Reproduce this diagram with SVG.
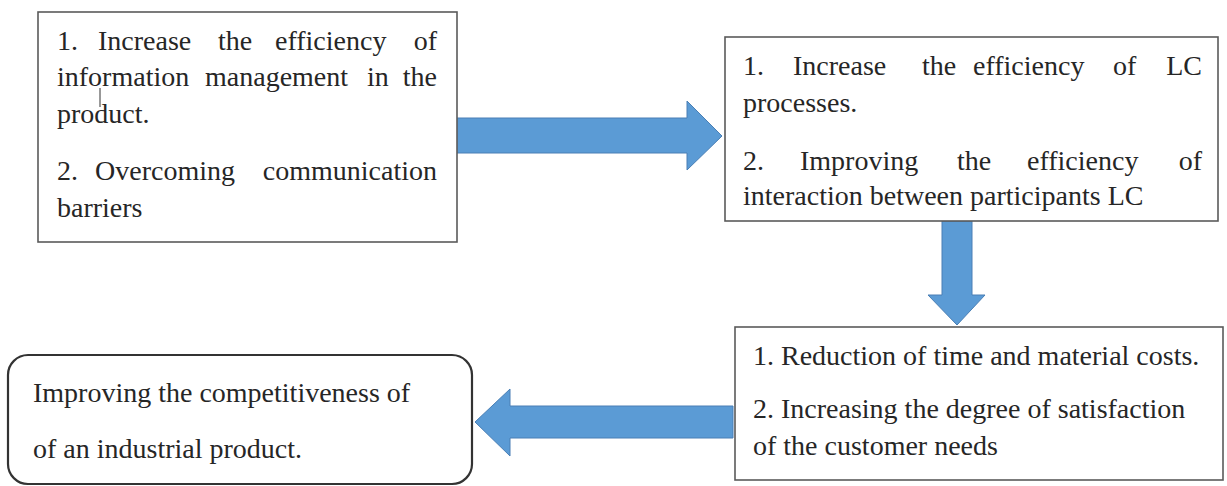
<svg xmlns="http://www.w3.org/2000/svg" width="1227" height="486" viewBox="0 0 1227 486">
<style>
.box{fill:#fff;stroke:#5a5a5a;stroke-width:1.6}
.rbox{fill:#fff;stroke:#333;stroke-width:2.2}
text{font-size:28px;fill:#262626}
.arrow{fill:#5b9bd5;stroke:#4a7fb5;stroke-width:1}
</style>
<rect width="1227" height="486" fill="#fff"/>
<g id="connectors">
<polygon class="arrow" points="456,118 687,118 687,101 722,136 687,170 687,153 456,153"/>
<polygon class="arrow" points="942,221 972,221 972,295 985,295 957,325 928,295 942,295"/>
<polygon class="arrow" points="733,406 510,406 510,389 475,422 510,456 510,438 733,438"/>
</g>
<g id="node1" font-family="Liberation Serif, DejaVu Serif, serif">
<rect class="box" x="38" y="12" width="419" height="230"/>
<text y="50"><tspan x="57">1.</tspan><tspan x="98">Increase</tspan><tspan x="218">the</tspan><tspan x="275">efficiency</tspan><tspan x="437" text-anchor="end">of</tspan></text>
<text y="86"><tspan x="57">information</tspan><tspan x="205">management</tspan><tspan x="367">in</tspan><tspan x="437" text-anchor="end">the</tspan></text>
<text x="57" y="123">product.</text>
<text y="180"><tspan x="57">2.</tspan><tspan x="95">Overcoming</tspan><tspan x="437" text-anchor="end">communication</tspan></text>
<text x="57" y="217">barriers</text>
<line x1="100" y1="88" x2="100" y2="107" stroke="#333" stroke-width="1"/>
</g>
<g id="node2" font-family="Liberation Serif, DejaVu Serif, serif">
<rect class="box" x="725" y="37" width="493" height="184"/>
<text y="75"><tspan x="743">1.</tspan><tspan x="793">Increase</tspan><tspan x="922">the</tspan><tspan x="973">efficiency</tspan><tspan x="1113">of</tspan><tspan x="1202" text-anchor="end">LC</tspan></text>
<text x="743" y="112">processes.</text>
<text y="170"><tspan x="743">2.</tspan><tspan x="800">Improving</tspan><tspan x="957">the</tspan><tspan x="1027">efficiency</tspan><tspan x="1202" text-anchor="end">of</tspan></text>
<text x="743" y="205">interaction between participants LC</text>
</g>
<g id="node3" font-family="Liberation Serif, DejaVu Serif, serif">
<rect class="box" x="735" y="327" width="488" height="153"/>
<text x="753" y="365">1. Reduction of time and material costs.</text>
<text x="753" y="418">2. Increasing the degree of satisfaction</text>
<text x="753" y="455">of the customer needs</text>
</g>
<g id="node4" font-family="Liberation Serif, DejaVu Serif, serif">
<rect class="rbox" x="8" y="355" width="464" height="129" rx="20" ry="20"/>
<text x="33" y="402">Improving the competitiveness of</text>
<text x="33" y="458">of an industrial product.</text>
</g>
</svg>
